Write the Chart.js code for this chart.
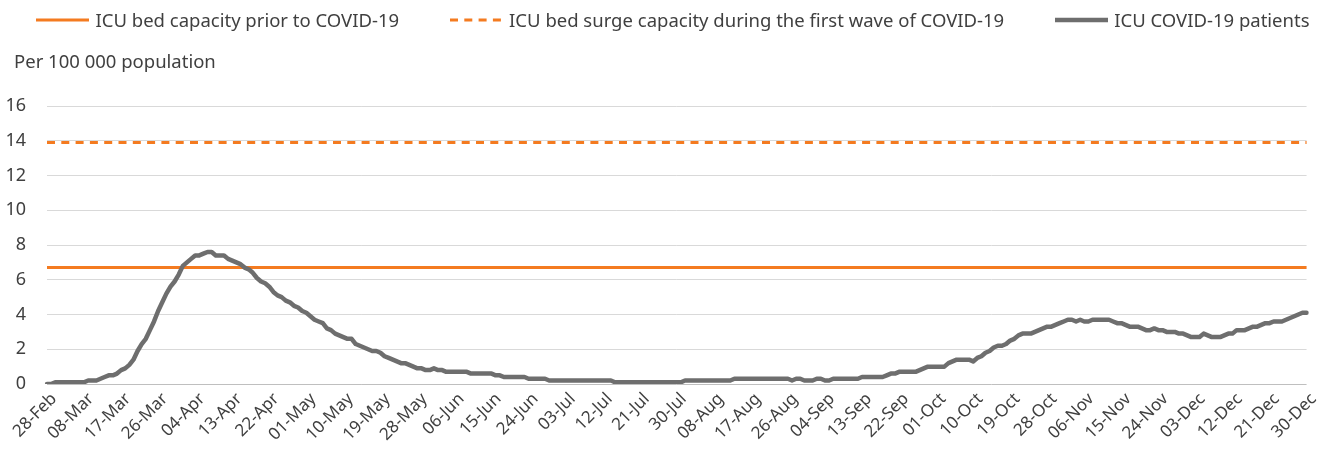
<!DOCTYPE html>
<html>
<head>
<meta charset="utf-8">
<title>ICU COVID-19 patients</title>
<script src="https://cdn.jsdelivr.net/npm/chart.js@4.4.1/dist/chart.umd.min.js"></script>
<style>
  html, body { margin: 0; padding: 0; background: #fff; }
  #wrap   { position: relative; width: 1326px; height: 464px; font-family: 'Noto Sans', sans-serif; color: #404040; }
  #legend { position: absolute; top: 8px; left: 10px; width: 1326px; display: flex; justify-content: center; gap: 51px;
            font-size: 18.5px; line-height: 24px; }
  .item   { display: flex; align-items: center; white-space: nowrap; }
  .item svg { margin-right: 6px; }
  #unit   { position: absolute; left: 14px; top: 49px; font-size: 18.5px; line-height: 24px; }
  canvas  { position: absolute; left: 0; top: 0; }
</style>
</head>
<body>
<div id="wrap">
  <canvas id="chart" width="1326" height="464"></canvas>
  <div id="legend"></div>
  <div id="unit">Per 100 000 population</div>
</div>
<script>
'use strict';

// ── Data (per 100 000 population, daily 28-Feb .. 30-Dec 2020) ───────────────
const MONTHS = ['Jan','Feb','Mar','Apr','May','Jun','Jul','Aug','Sep','Oct','Nov','Dec'];

const ICU_FEB = [0.0, 0.0];
const ICU_MAR = [0.1,0.1,0.1,0.1,0.1,0.1,0.1,0.1,0.2,0.2,0.2,0.3,0.4,0.5,0.5,0.6,0.8,0.9,1.1,1.4,
                 1.9,2.3,2.6,3.1,3.6,4.2,4.7,5.2,5.6,5.9,6.3];
const ICU_APR = [6.8,7.0,7.2,7.4,7.4,7.5,7.6,7.6,7.4,7.4,7.4,7.2,7.1,7.0,6.9,6.7,6.6,6.4,6.1,5.9,
                 5.8,5.6,5.3,5.1,5.0,4.8,4.7,4.5,4.4,4.2];
const ICU_MAY = [4.1,3.9,3.7,3.6,3.5,3.2,3.1,2.9,2.8,2.7,2.6,2.6,2.3,2.2,2.1,2.0,1.9,1.9,1.8,1.6,
                 1.5,1.4,1.3,1.2,1.2,1.1,1.0,0.9,0.9,0.8,0.8];
const ICU_JUN = [0.9,0.8,0.8,0.7,0.7,0.7,0.7,0.7,0.7,0.6,0.6,0.6,0.6,0.6,0.6,0.5,0.5,0.4,0.4,0.4,
                 0.4,0.4,0.4,0.3,0.3,0.3,0.3,0.3,0.2,0.2];
const ICU_JUL = [0.2,0.2,0.2,0.2,0.2,0.2,0.2,0.2,0.2,0.2,0.2,0.2,0.2,0.2,0.1,0.1,0.1,0.1,0.1,0.1,
                 0.1,0.1,0.1,0.1,0.1,0.1,0.1,0.1,0.1,0.1,0.1];
const ICU_AUG = [0.2,0.2,0.2,0.2,0.2,0.2,0.2,0.2,0.2,0.2,0.2,0.2,0.3,0.3,0.3,0.3,0.3,0.3,0.3,0.3,
                 0.3,0.3,0.3,0.3,0.3,0.3,0.2,0.3,0.3,0.2,0.2];
const ICU_SEP = [0.2,0.3,0.3,0.2,0.2,0.3,0.3,0.3,0.3,0.3,0.3,0.3,0.4,0.4,0.4,0.4,0.4,0.4,0.5,0.6,
                 0.6,0.7,0.7,0.7,0.7,0.7,0.8,0.9,1.0,1.0];
const ICU_OCT = [1.0,1.0,1.0,1.2,1.3,1.4,1.4,1.4,1.4,1.3,1.5,1.6,1.8,1.9,2.1,2.2,2.2,2.3,2.5,2.6,
                 2.8,2.9,2.9,2.9,3.0,3.1,3.2,3.3,3.3,3.4,3.5];
const ICU_NOV = [3.6,3.7,3.7,3.6,3.7,3.6,3.6,3.7,3.7,3.7,3.7,3.7,3.6,3.5,3.5,3.4,3.3,3.3,3.3,3.2,
                 3.1,3.1,3.2,3.1,3.1,3.0,3.0,3.0,2.9,2.9];
const ICU_DEC = [2.8,2.7,2.7,2.7,2.9,2.8,2.7,2.7,2.7,2.8,2.9,2.9,3.1,3.1,3.1,3.2,3.3,3.3,3.4,3.5,
                 3.5,3.6,3.6,3.6,3.7,3.8,3.9,4.0,4.1,4.1];

const ICU_PATIENTS = [].concat(ICU_FEB, ICU_MAR, ICU_APR, ICU_MAY, ICU_JUN, ICU_JUL,
                               ICU_AUG, ICU_SEP, ICU_OCT, ICU_NOV, ICU_DEC);

// capacity lines: value at first and last day
const PRE_CAPACITY   = [6.7, 6.7];
const SURGE_CAPACITY = [13.9, 13.9];

const TICK_EVERY = 9;
const Y_MAX      = 16;
const Y_STEP     = 2;

// ── Style ─────────────────────────────────────────────────────────────────────
const ORANGE = '#f47b20';
const GREY   = '#6e6e6e';
const TEXT   = '#404040';
const FONT   = "'Noto Sans', sans-serif";

// ── Category labels (one per day) ─────────────────────────────────────────────
const DAY_LABELS = ICU_PATIENTS.map((_, i) => {
  const d = new Date(2020, 1, 28 + i);
  return String(d.getDate()).padStart(2, '0') + '-' + MONTHS[d.getMonth()];
});

const ends = vals => vals.map((v, i) => ({ x: i ? DAY_LABELS[DAY_LABELS.length - 1] : DAY_LABELS[0], y: v }));

// ── Chart ─────────────────────────────────────────────────────────────────────
const datasets = [
  {
    label: 'ICU bed capacity prior to COVID-19',
    data: ends(PRE_CAPACITY),
    borderColor: ORANGE, borderWidth: 3, order: 2
  },
  {
    label: 'ICU bed surge capacity during the first wave of COVID-19',
    data: ends(SURGE_CAPACITY),
    borderColor: ORANGE, borderWidth: 3, borderDash: [8, 6.3], order: 1
  },
  {
    label: 'ICU COVID-19 patients',
    data: ICU_PATIENTS,
    borderColor: GREY, borderWidth: 4.5, borderJoinStyle: 'round', borderCapStyle: 'round', order: 0
  }
];

const chart = new Chart(document.getElementById('chart').getContext('2d'), {
  type: 'line',
  data: {
    labels: DAY_LABELS,
    datasets: datasets.map(ds => ({ ...ds, pointRadius: 0, tension: 0, fill: false }))
  },
  options: {
    responsive: false,
    animation: false,
    devicePixelRatio: 1,
    layout: { padding: { left: 2, right: 13, top: 106, bottom: 2 } },
    plugins: {
      legend:  { display: false },
      tooltip: { enabled: false }
    },
    scales: {
      x: {
        grid:   { display: false, drawTicks: false },
        border: { display: false },
        ticks: {
          autoSkip: false, minRotation: 45, maxRotation: 45, padding: 5, labelOffset: 7,
          color: TEXT, font: { family: FONT, size: 17 },
          callback: (v, i) => (i % TICK_EVERY === 0 ? DAY_LABELS[i] : null)
        },
        afterFit: s => { s.height = 78; }
      },
      y: {
        min: 0, max: Y_MAX,
        grid:   { color: c => (c.tick && c.tick.value === 0 ? '#bfbfbf' : '#d9d9d9'), lineWidth: 1, drawTicks: false },
        border: { display: false },
        ticks:  { stepSize: Y_STEP, padding: 21, color: TEXT, font: { family: FONT, size: 18 } },
        afterFit: s => { s.width = 45; }
      }
    }
  }
});

// ── Legend (HTML, built from the datasets) ────────────────────────────────────
const legend = document.getElementById('legend');
datasets.forEach(ds => {
  const item = document.createElement('div');
  item.className = 'item';
  const dash = ds.borderDash ? ` stroke-dasharray="${ds.borderDash.join(' ')}"` : '';
  item.innerHTML =
    `<svg width="53" height="10"><line x1="0" y1="5" x2="53" y2="5" stroke="${ds.borderColor}"` +
    ` stroke-width="${ds.borderWidth}"${dash}/></svg><span>${ds.label}</span>`;
  legend.appendChild(item);
});
</script>
</body>
</html>
